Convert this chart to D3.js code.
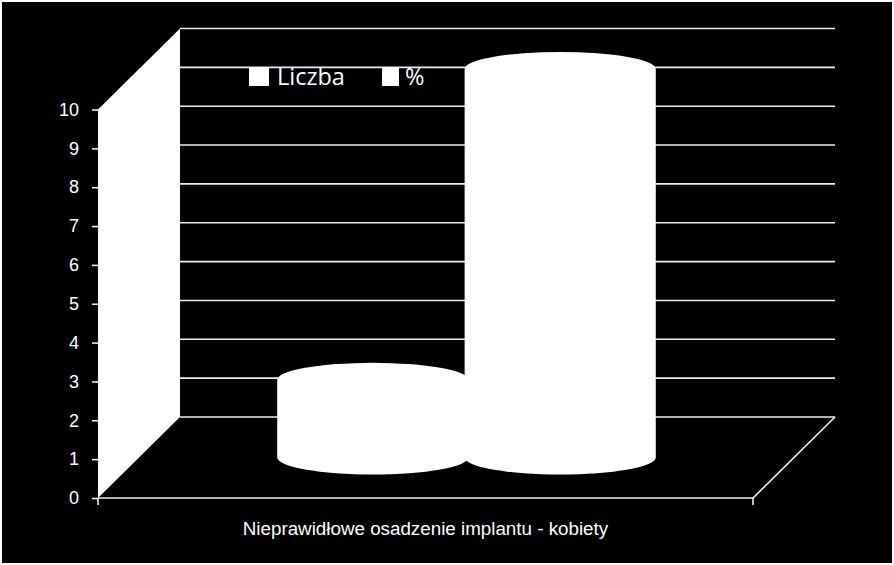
<!DOCTYPE html>
<html>
<head>
<meta charset="utf-8">
<script src="https://cdn.jsdelivr.net/npm/d3@7"></script>
<style>
  html, body { margin: 0; padding: 0; background: #fff; }
  svg { display: block; }
  text { font-family: "Liberation Sans", Arial, sans-serif; fill: #fff; }
</style>
</head>
<body>
<svg id="chart" width="894" height="565"></svg>
<script>
// chart data
const seriesNames = ["Liczba", "%"];
const seriesValues = [2, 10];
const yTicks = [0, 1, 2, 3, 4, 5, 6, 7, 8, 9, 10];
const categoryLabel = "Nieprawidłowe osadzenie implantu - kobiety";

const svg = d3.select("#chart");

// frame
svg.append("rect")
    .attr("x", 2).attr("y", 2)
    .attr("width", 890).attr("height", 561)
    .attr("fill", "#000");

// 3d box: the front plane and how far the back wall is shifted
const depthX = 82;
const depthY = -81;
const lineColor = "#eee";
const lineWidth = 1.6;

const y = d3.scaleLinear().domain([0, 10]).range([498, 109.5]);
const x = d3.scaleBand()
    .domain(seriesNames)
    .range([98, 753])
    .paddingInner(0)
    .paddingOuter(0.7476);

const line = d3.line();

// left wall
svg.append("path")
    .attr("d", line([
        [x.range()[0], y(0)],
        [x.range()[0] + depthX, y(0) + depthY],
        [x.range()[0] + depthX, y(10) + depthY],
        [x.range()[0], y(10)]
    ]) + "Z")
    .attr("fill", "#fff");

// gridlines on the back wall
svg.append("g")
    .selectAll("line")
    .data(yTicks)
    .join("line")
        .attr("x1", x.range()[0] + depthX)
        .attr("x2", x.range()[1] + depthX)
        .attr("y1", d => y(d) + depthY)
        .attr("y2", d => y(d) + depthY)
        .attr("stroke", lineColor)
        .attr("stroke-width", lineWidth);

// floor edges
svg.append("path")
    .attr("d", line([
        [x.range()[0], y(0)],
        [x.range()[1], y(0)],
        [x.range()[1] + depthX, y(0) + depthY]
    ]))
    .attr("fill", "none")
    .attr("stroke", lineColor)
    .attr("stroke-width", lineWidth);

// y axis
const yAxis = d3.axisLeft(y)
    .tickValues(yTicks)
    .tickSize(6)
    .tickPadding(13)
    .tickFormat(d3.format("d"));

svg.append("g")
    .attr("transform", `translate(${x.range()[0]},0)`)
    .call(yAxis)
    .call(g => g.select(".domain").remove())
    .call(g => g.selectAll("line").attr("stroke", lineColor).attr("stroke-width", lineWidth))
    .call(g => g.selectAll("text")
        .style("font-family", "'Liberation Sans', Arial, sans-serif")
        .style("font-size", "18px")
        .attr("fill", "#fff"));

// x axis ticks, only at the two ends
svg.append("g")
    .selectAll("line")
    .data(x.range())
    .join("line")
        .attr("x1", d => d)
        .attr("x2", d => d)
        .attr("y1", y(0))
        .attr("y2", y(0) + 7)
        .attr("stroke", lineColor)
        .attr("stroke-width", lineWidth);

// cylinders, slightly wider than their band so neighbours touch
const rimHeight = 17;
svg.append("g")
    .selectAll("path")
    .data(seriesNames.map((name, i) => ({ name, value: seriesValues[i] })))
    .join("path")
        .attr("fill", "#fff")
        .attr("d", d => {
            const rx = x.bandwidth() * 0.51;
            const cx = x(d.name) + x.bandwidth() / 2 + depthX / 2;
            const top = y(d.value) + depthY / 2;
            const bottom = y(0) + depthY / 2;
            return `M${cx - rx},${bottom}V${top}`
                + `A${rx},${rimHeight} 0 0 1 ${cx + rx},${top}`
                + `V${bottom}`
                + `A${rx},${rimHeight} 0 0 1 ${cx - rx},${bottom}Z`;
        });

// category label
svg.append("text")
    .attr("x", (x.range()[0] + x.range()[1]) / 2)
    .attr("y", 535)
    .attr("text-anchor", "middle")
    .style("font-size", "18.8px")
    .text(categoryLabel);

// legend
const legendX = [249, 382];
const swatchWidth = [20, 17];
const legend = svg.append("g")
    .selectAll("g")
    .data(seriesNames)
    .join("g")
        .attr("transform", (d, i) => `translate(${legendX[i]},67)`);

legend.append("rect")
    .attr("width", (d, i) => swatchWidth[i])
    .attr("height", 19)
    .attr("fill", "#fff");

legend.append("text")
    .attr("x", (d, i) => swatchWidth[i] + (i === 0 ? 8 : 6))
    .attr("y", 18)
    .style("font-family", "'Open Sans', sans-serif")
    .style("font-size", "23.5px")
    .text(d => d);
</script>
</body>
</html>
